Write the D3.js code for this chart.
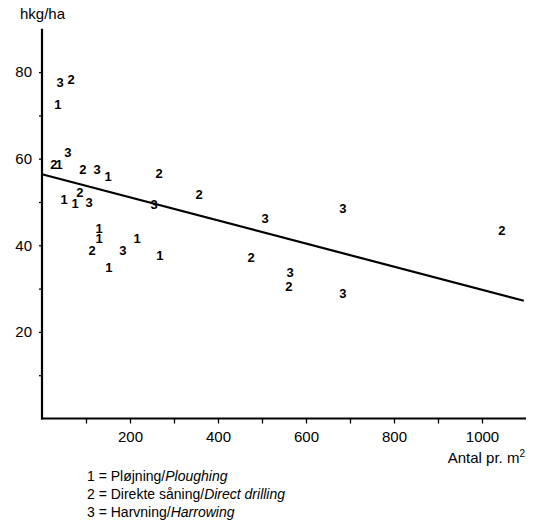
<!DOCTYPE html>
<html><head><meta charset="utf-8">
<script src="https://cdn.jsdelivr.net/npm/d3@7"></script>
<style>
html,body{margin:0;padding:0;background:#fff;}
svg{display:block;font-family:"Liberation Sans",Arial,Helvetica,sans-serif;}
</style></head>
<body>
<script>
// Data: plant density (antal pr. m2) vs yield (hkg/ha), by tillage treatment
const ploughingX = [36, 39, 150, 50, 75, 130, 130, 216, 152, 268];
const ploughingY = [72.6, 58.8, 56.0, 50.7, 49.8, 44.0, 41.7, 41.7, 35.0, 37.8];
const drillingX = [66, 27, 93, 266, 86, 357, 114, 475, 561, 1045];
const drillingY = [78.4, 58.8, 57.6, 56.7, 52.3, 51.8, 38.9, 37.3, 30.6, 43.5];
const harrowingX = [41, 59, 125, 107, 255, 184, 507, 684, 564, 684];
const harrowingY = [77.7, 61.5, 57.6, 50.0, 49.5, 38.9, 46.3, 48.6, 33.8, 29.0];
const treatmentCodes = ["1", "2", "3"];
const legendDanish = ["Pløjning/", "Direkte såning/", "Harvning/"];
const legendEnglish = ["Ploughing", "Direct drilling", "Harrowing"];
const trendX = [0, 1095];
const trendY = [56.4, 27.2];
const xTicks = [100, 200, 300, 400, 500, 600, 700, 800, 900, 1000];
const xTickLabels = [200, 400, 600, 800, 1000];
const yTicks = [10, 20, 30, 40, 50, 60, 70, 80];
const yTickLabels = [20, 40, 60, 80];
const yTitle = "hkg/ha";
const xTitle = "Antal pr. m";

const W = 536, H = 526;
const svg = d3.select("body").append("svg").attr("width", W).attr("height", H);

const x = d3.scaleLinear().domain([0, 1100]).range([42, 526]);
const y = d3.scaleLinear().domain([0, 90]).range([418.5, 28.8]);

// axes
const xAxis = d3.axisBottom(x).tickValues(xTicks).tickSize(5).tickSizeOuter(0)
  .tickFormat(d => xTickLabels.includes(d) ? d : "");
const gx = svg.append("g").attr("transform", `translate(0,${y(0)})`).call(xAxis);
gx.select(".domain").attr("stroke", "#000").attr("stroke-width", 2.2)
  .attr("d", `M${x(0) - 1},0H${x(1100)}`);
gx.selectAll(".tick line").attr("stroke", "#000").attr("stroke-width", 1.3);
gx.selectAll(".tick text").attr("font-size", 15).attr("font-family", null).attr("fill", "#000").attr("dy", "1.05em");

const yAxis = d3.axisLeft(y).tickValues(yTicks).tickSize(3).tickSizeOuter(0)
  .tickFormat(d => yTickLabels.includes(d) ? d : "");
const gy = svg.append("g").attr("transform", `translate(${x(0)},0)`).call(yAxis);
gy.select(".domain").attr("stroke", "#000").attr("stroke-width", 2.2)
  .attr("d", `M0,${y(90)}V${y(0) + 1}`);
gy.selectAll(".tick line").attr("stroke", "#000").attr("stroke-width", 1.3);
gy.selectAll(".tick text").attr("font-size", 15).attr("font-family", null).attr("fill", "#000").attr("x", -10);

// axis titles
svg.append("text").attr("x", 20).attr("y", 19).attr("font-size", 15).text(yTitle);
const xt = svg.append("text").attr("x", 525).attr("y", 463).attr("font-size", 15).attr("text-anchor", "end");
xt.append("tspan").text(xTitle);
xt.append("tspan").attr("font-size", 10).attr("dy", -6).text("2");

// regression line
svg.append("line")
  .attr("x1", x(trendX[0])).attr("y1", y(trendY[0]))
  .attr("x2", x(trendX[1])).attr("y2", y(trendY[1]))
  .attr("stroke", "#000").attr("stroke-width", 2.2);

// points as treatment digits
const series = [
  {code: treatmentCodes[0], xs: ploughingX, ys: ploughingY},
  {code: treatmentCodes[1], xs: drillingX, ys: drillingY},
  {code: treatmentCodes[2], xs: harrowingX, ys: harrowingY}
];
series.forEach(s => {
  svg.append("g").selectAll("text").data(s.xs.map((v, i) => [v, s.ys[i]])).join("text")
    .attr("x", d => x(d[0])).attr("y", d => y(d[1]))
    .attr("text-anchor", "middle").attr("dy", "0.36em")
    .attr("font-size", 13).attr("font-weight", "bold")
    .text(s.code);
});

// legend
const lg = svg.append("g");
treatmentCodes.forEach((c, i) => {
  const t = lg.append("text").attr("x", 87).attr("y", 481 + i * 18).attr("font-size", 14);
  t.append("tspan").text(`${c} = ${legendDanish[i]}`);
  t.append("tspan").attr("font-style", "italic").text(legendEnglish[i]);
});
</script>
</body></html>
